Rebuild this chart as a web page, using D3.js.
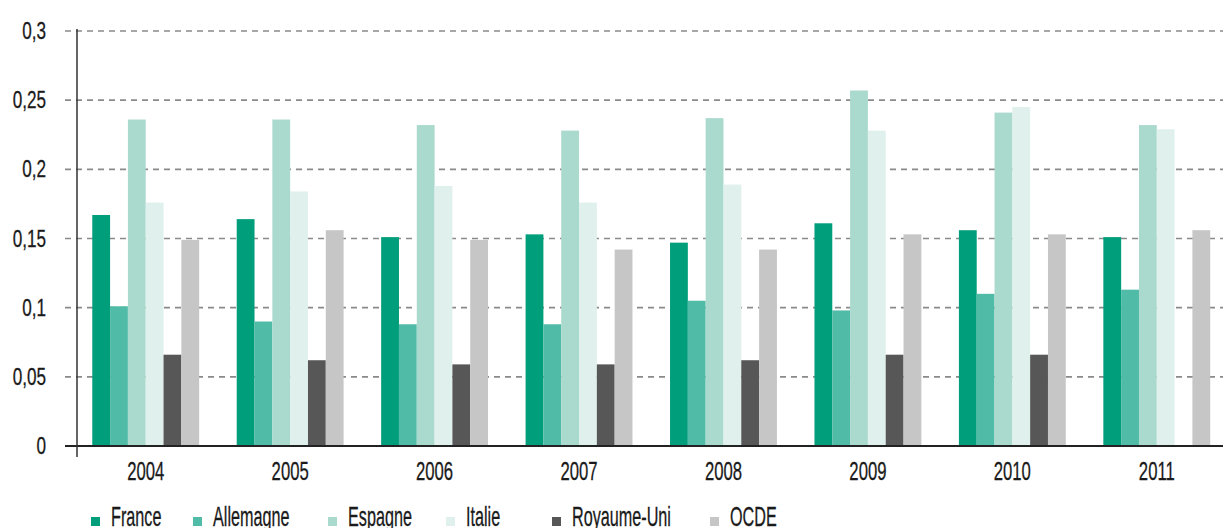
<!DOCTYPE html>
<html lang="fr">
<head>
<meta charset="UTF-8">
<title>Bar chart</title>
<script src="https://d3js.org/d3.v7.min.js"></script>
<style>
    body { margin: 0; background: #fff; }
    svg text { font-family: "Liberation Sans", Arial, sans-serif; fill: #1a1a1a; }
</style>
</head>
<body>
<svg id="chart" width="1223" height="528"></svg>
<script>
    var years = ['2004', '2005', '2006', '2007', '2008', '2009', '2010', '2011'];
    var seriesNames = ['France', 'Allemagne', 'Espagne', 'Italie', 'Royaume-Uni', 'OCDE'];
    var seriesColors = ['#009e7b', '#50bba6', '#aad9cd', '#e0f0ec', '#575757', '#c6c6c6'];

    var france = [0.167, 0.164, 0.151, 0.153, 0.147, 0.161, 0.156, 0.151];
    var allemagne = [0.101, 0.090, 0.088, 0.088, 0.105, 0.098, 0.110, 0.113];
    var espagne = [0.236, 0.236, 0.232, 0.228, 0.237, 0.257, 0.241, 0.232];
    var italie = [0.176, 0.184, 0.188, 0.176, 0.189, 0.228, 0.245, 0.229];
    var royaumeUni = [0.066, 0.062, 0.059, 0.059, 0.062, 0.066, 0.066, null];
    var ocde = [0.149, 0.156, 0.149, 0.142, 0.142, 0.153, 0.153, 0.156];

    var yTicks = [0, 0.05, 0.1, 0.15, 0.2, 0.25, 0.3];

    var allSeries = [france, allemagne, espagne, italie, royaumeUni, ocde];

    var svg = d3.select('#chart');

    var x0 = d3.scaleBand()
        .domain(years)
        .range([73.5, 1229])
        .paddingInner(0.26)
        .paddingOuter(0.13);

    var x1 = d3.scaleBand()
        .domain(seriesNames)
        .range([0, x0.bandwidth()]);

    var y = d3.scaleLinear()
        .domain([0, 0.3])
        .range([446, 31]);

    var fmt = function(d) { return String(d).replace('.', ','); };

    // condensed look: squeeze text horizontally
    var squeeze = function(sx) {
        return function(px, py) { return 'translate(' + px + ',' + py + ') scale(' + sx + ',1)'; };
    };

    // grid lines (dashed)
    svg.append('g')
        .selectAll('line')
        .data(yTicks.filter(function(d) { return d > 0; }))
        .join('line')
        .attr('x1', 65)
        .attr('x2', 1223)
        .attr('y1', function(d) { return y(d); })
        .attr('y2', function(d) { return y(d); })
        .attr('stroke', '#8a8a8a')
        .attr('stroke-width', 1.6)
        .attr('stroke-dasharray', '6,5');

    // bars
    var groups = svg.append('g')
        .selectAll('g')
        .data(years)
        .join('g')
        .attr('transform', function(d) { return 'translate(' + x0(d) + ',0)'; });

    groups.selectAll('rect')
        .data(function(d, i) {
            return seriesNames.map(function(name, k) {
                return { name: name, value: allSeries[k][i], color: seriesColors[k] };
            }).filter(function(e) { return e.value !== null; });
        })
        .join('rect')
        .attr('x', function(d) { return x1(d.name); })
        .attr('width', x1.bandwidth())
        .attr('y', function(d) { return y(d.value); })
        .attr('height', function(d) { return y(0) - y(d.value); })
        .attr('fill', function(d) { return d.color; });

    // baseline + y axis line
    svg.append('line')
        .attr('x1', 65).attr('x2', 1223)
        .attr('y1', y(0)).attr('y2', y(0))
        .attr('stroke', '#222').attr('stroke-width', 2);

    svg.append('line')
        .attr('x1', 77).attr('x2', 77)
        .attr('y1', 29).attr('y2', 457)
        .attr('stroke', '#333').attr('stroke-width', 1.5);

    // y labels
    var ySq = squeeze(0.7);
    svg.append('g')
        .selectAll('text')
        .data(yTicks)
        .join('text')
        .attr('transform', function(d) { return ySq(46, y(d) + 8); })
        .attr('text-anchor', 'end')
        .attr('font-size', 24.5)
        .attr('stroke', '#1a1a1a').attr('stroke-width', 0.3)
        .text(fmt);

    // x labels
    var xSq = squeeze(0.63);
    svg.append('g')
        .selectAll('text')
        .data(years)
        .join('text')
        .attr('transform', function(d) { return xSq(x0(d) + x0.bandwidth() / 2, 480); })
        .attr('text-anchor', 'middle')
        .attr('font-size', 26.5)
        .attr('stroke', '#1a1a1a').attr('stroke-width', 0.3)
        .text(function(d) { return d; });

    // legend (item positions follow the original layout)
    var legendX = [91, 193, 328, 446, 552, 710];
    var legend = svg.append('g');
    var lSq = squeeze(0.6);
    seriesNames.forEach(function(name, k) {
        legend.append('rect')
            .attr('x', legendX[k]).attr('y', 517)
            .attr('width', 9).attr('height', 9)
            .attr('fill', seriesColors[k]);
        legend.append('text')
            .attr('transform', lSq(legendX[k] + 20, 526))
            .attr('font-size', 27)
            .attr('stroke', '#1a1a1a').attr('stroke-width', 0.3)
            .text(name);
    });
</script>
</body>
</html>
